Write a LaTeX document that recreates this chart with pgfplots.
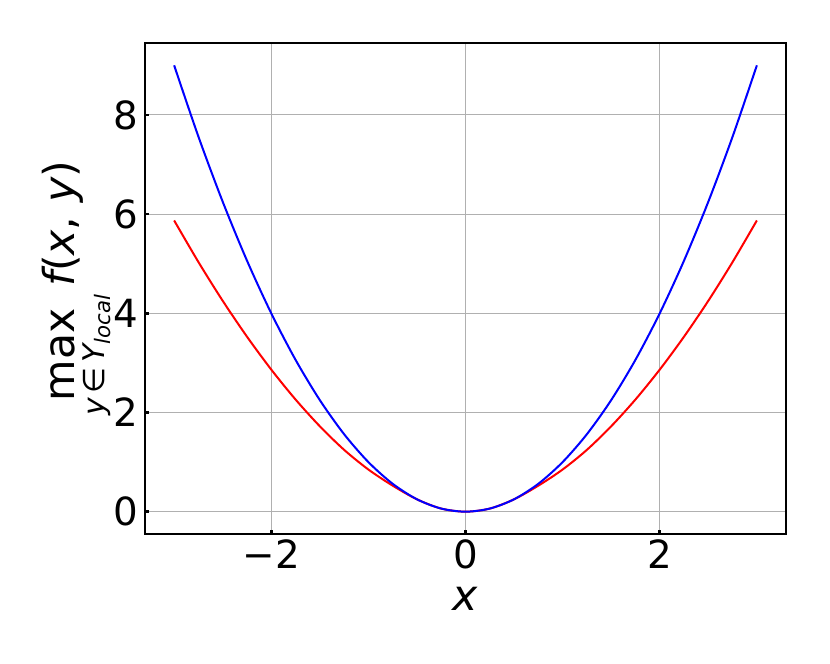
\documentclass[border=0pt]{standalone}
\usepackage{amsmath}
\usepackage{fontspec}
\setmainfont{DejaVu Sans}
\usepackage{pgfplots}
\pgfplotsset{compat=1.18}

\begin{document}
\fontsize{21.3}{25}\selectfont
\begin{tikzpicture}
  \begin{axis}[
      scale only axis,
      width=320.5pt, height=245.5pt,
      xmin=-3.3, xmax=3.3,
      ymin=-0.45, ymax=9.45,
      xtick={-2,0,2}, xticklabels={−2,0,2},
      ytick={0,2,4,6,8}, yticklabels={0,2,4,6,8},
      xtick pos=left, ytick pos=left,
      tick align=inside,
      major tick length=2pt,
      tick style={black, line width=1.3pt},
      axis line style={black, line width=0.55pt},
      grid=major,
      major grid style={color=black!31, line width=0.55pt},
      ticklabel style={font=\fontsize{19.4}{23}\selectfont},
      xticklabel style={anchor=base, yshift=-17.25pt},
      yticklabel style={anchor=east, inner xsep=0pt, xshift=-3pt},
      label style={font=\fontsize{21.3}{25}\selectfont},
      xlabel={\itshape x},
      xlabel style={at={(axis description cs:0.5,-0.1558)}, anchor=base},
      ylabel={$\mathop{\text{max}}\limits_{\text{\itshape y}\,\text{∈}\,\text{\itshape Y}_{\text{\itshape local}}}\text{\itshape f}\text{(}\text{\itshape x}\text{, }\text{\itshape y}\text{)}$},
      ylabel style={at={(axis description cs:-0.1092,0.5)}, anchor=base},
  ]
    % red: max over the local set
    \addplot[red, line width=1pt, smooth] coordinates {
      (-3.00,5.872) (-2.75,5.034) (-2.50,4.252) (-2.25,3.529) (-2.00,2.865)
      (-1.75,2.262) (-1.50,1.722) (-1.25,1.247) (-1.00,0.850) (-0.75,0.525)
      (-0.50,0.249) (-0.25,0.0625) (0.00,0.000) (0.25,0.0625) (0.50,0.249)
      (0.75,0.525) (1.00,0.850) (1.25,1.247) (1.50,1.722) (1.75,2.262)
      (2.00,2.865) (2.25,3.529) (2.50,4.252) (2.75,5.034) (3.00,5.872)
    };
    % blue: x^2
    \addplot[blue, line width=1pt, smooth] coordinates {
      (-3.00,9.000) (-2.75,7.5625) (-2.50,6.250) (-2.25,5.0625) (-2.00,4.000)
      (-1.75,3.0625) (-1.50,2.250) (-1.25,1.5625) (-1.00,1.000) (-0.75,0.5625)
      (-0.50,0.250) (-0.25,0.0625) (0.00,0.000) (0.25,0.0625) (0.50,0.250)
      (0.75,0.5625) (1.00,1.000) (1.25,1.5625) (1.50,2.250) (1.75,3.0625)
      (2.00,4.000) (2.25,5.0625) (2.50,6.250) (2.75,7.5625) (3.00,9.000)
    };
  \end{axis}
  \pgfresetboundingbox
  \path (current axis.south west) ++(-72.5pt,-65pt) coordinate (bbsw);
  \path (current axis.north east) ++(22pt,21.5pt) coordinate (bbne);
  \useasboundingbox (bbsw) rectangle (bbne);
\end{tikzpicture}
\end{document}
